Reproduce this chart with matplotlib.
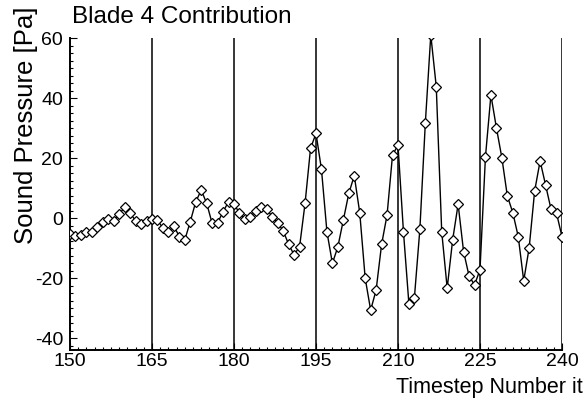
import numpy as np
import matplotlib.pyplot as plt
from matplotlib.ticker import MultipleLocator

plt.rcParams['font.family'] = ['Liberation Sans', 'DejaVu Sans']
plt.rcParams['axes.unicode_minus'] = False

# timestep numbers and sound pressure [Pa]
timestep = np.arange(150, 241)
pressure = [
    -5.3, -6.0, -5.7, -4.6, -4.7, -3.1, -1.2, -0.4, -1.0, 1.3,
    3.6, 1.6, -0.9, -2.0, -1.0, -0.4, -0.7, -3.4, -4.6, -2.7,
    -6.2, -7.3, -1.2, 5.4, 9.3, 4.9, -1.8, -1.6, 2.1, 5.4,
    4.7, 1.6, -0.3, 0.4, 2.4, 3.6, 3.0, 0.4, -1.6, -4.3,
    -8.8, -12.3, -9.5, 4.9, 23.2, 28.2, 16.2, -4.6, -15.1, -9.6,
    -0.7, 8.2, 14.1, 1.8, -20.1, -30.7, -24.0, -8.8, 1.0, 21.0,
    24.3, -4.6, -28.7, -26.6, -3.8, 31.6, 61.0, 43.8, -4.6, -23.4,
    -7.3, 4.6, -11.2, -19.3, -22.3, -17.3, 20.4, 41.0, 30.1, 20.1,
    7.4, 1.8, -6.2, -20.9, -9.9, 9.0, 19.0, 11.0, 2.9, 1.6,
    -6.2,
]
xticks = [150, 165, 180, 195, 210, 225, 240]
yticks = [-40, -20, 0, 20, 40, 60]

fig = plt.figure(figsize=(5.86, 4.03), dpi=100)
ax = fig.add_axes([0.1195, 0.1315, 0.8395, 0.7742])

# vertical reference lines at each labelled timestep
for xt in xticks[1:]:
    ax.axvline(xt, color='black', lw=1.1, zorder=1)

ax.plot(timestep, pressure, color='black', lw=1.0, marker='D', ms=5,
        mfc='white', mec='black', mew=0.9, zorder=3, clip_on=True)

ax.set_xlim(150, 240)
ax.set_ylim(-44, 60)
ax.set_xticks(xticks)
ax.set_yticks(yticks)
ax.xaxis.set_minor_locator(MultipleLocator(1.5))
ax.yaxis.set_minor_locator(MultipleLocator(2.5))
ax.tick_params(which='both', direction='in', labelsize=14, width=0.8)
ax.tick_params(which='major', length=5)
ax.tick_params(which='minor', length=2.5)
ax.tick_params(axis='x', pad=2)
ax.tick_params(axis='y', pad=5)

for side in ['top', 'right']:
    ax.spines[side].set_visible(False)
for side in ['left', 'bottom']:
    ax.spines[side].set_linewidth(1.4)

fig.text(72 / 586, 1 - 23 / 403, 'Blade 4 Contribution', fontsize=17.5,
         ha='left', va='baseline')
fig.text(26 / 586, 1 - 125 / 403, 'Sound Pressure [Pa]', fontsize=18.5,
         rotation=90, ha='center', va='center')
fig.text(583 / 586, 1 - 393 / 403, 'Timestep Number it', fontsize=15.5,
         ha='right', va='baseline')

plt.savefig('out.png', dpi=100)
plt.close()
